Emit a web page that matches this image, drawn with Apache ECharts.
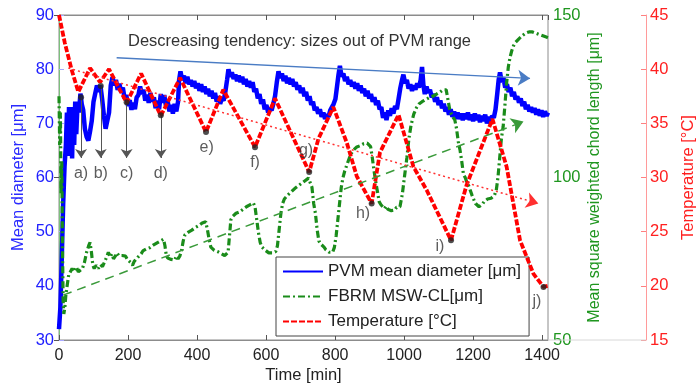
<!DOCTYPE html>
<html><head><meta charset="utf-8">
<script src="https://cdn.jsdelivr.net/npm/echarts@6/dist/echarts.min.js"></script>
<style>html,body{margin:0;padding:0;background:#fff}#c{width:697px;height:390px}</style>
</head><body><div id="c"></div>
<script>
// ---- data ----
const xTicks = [0, 200, 400, 600, 800, 1000, 1200, 1400];
const leftTicks = [30, 40, 50, 60, 70, 80, 90];
const greenTicks = [50, 100, 150];
const redTicks = [15, 20, 25, 30, 35, 40, 45];

const pvmData = [[0,32],[4,36],[8,45],[12,55],[16,62],[20,66],[23,72],[26,64],[29,73],[32,64],[35,72],[38,63.5],[41,73],[44,66],[47,74],[50,68],[54,74],[58,72],[62,75.5],[66,73.5],[70,72.5],[75,69],[80,67.5],[85,66.8],[90,68.5],[95,70.5],[100,74],[105,75.5],[110,77],[115,75.8],[120,77],[125,74.5],[130,71.5],[135,69],[140,68.8],[145,72],[150,77],[155,78.5],[160,77],[165,78],[170,76.2],[175,77.3],[180,75.8],[185,76.6],[190,74.6],[195,75.2],[200,73.2],[205,74.3],[210,72.5],[215,73.8],[220,72.6],[225,74.8],[230,75.2],[235,76.8],[240,75.4],[245,76.2],[250,74.2],[255,75.3],[260,73.8],[265,75.6],[270,74],[275,74.8],[280,72.8],[285,74.2],[290,72.6],[295,75.4],[300,73.8],[305,75.2],[310,73.2],[315,74],[320,72.2],[325,73.4],[330,71.8],[335,73.6],[340,72.2],[345,74],[348,78],[352,79.6],[357,78],[362,78.8],[367,77.4],[372,78.6],[377,77.2],[382,78],[387,76.8],[392,77.8],[397,76.5],[402,77.4],[407,76],[412,77.2],[417,75.8],[422,76.8],[427,75.4],[432,76.4],[437,75],[442,76],[447,74.6],[452,75.6],[457,74],[462,75],[467,73.6],[472,74.6],[477,74.2],[482,75.8],[487,78],[491,80],[496,78.6],[501,79.4],[506,78.2],[511,79],[516,77.8],[521,78.8],[526,77.6],[531,78.6],[536,77.2],[541,78.2],[546,76.8],[551,77.8],[556,76.6],[561,77.6],[566,75.8],[571,76.4],[576,74.6],[581,75.4],[586,73.6],[591,74.4],[596,72.6],[601,73.4],[606,72],[611,72.8],[616,72.4],[621,73.6],[626,75],[631,77.5],[636,79.6],[641,78.4],[646,79.2],[651,77.8],[656,78.8],[661,77.4],[666,78.4],[671,77.2],[676,78.2],[681,76.8],[686,77.6],[691,76.2],[696,77],[701,75.6],[706,76.6],[711,75],[716,75.8],[721,74.2],[726,75],[731,73.4],[736,74],[741,72.4],[746,73],[751,71.8],[756,72.6],[761,71.2],[766,72],[771,70.8],[776,71.6],[781,71.2],[786,72.4],[791,72.2],[796,73.6],[801,74.5],[806,77],[810,79],[814,80.6],[819,78.6],[824,79.2],[829,77.8],[834,78.6],[839,77.2],[844,78],[849,76.8],[854,77.6],[859,76.4],[864,77.4],[869,76],[874,77],[879,75.6],[884,76.4],[889,75],[894,76],[899,74.6],[904,75.4],[909,74],[914,74.8],[919,73.4],[924,74.2],[929,72.6],[934,73],[939,71],[944,72],[949,70.6],[954,72.4],[959,71.4],[964,72.8],[969,71.8],[974,73.2],[979,72.6],[984,74.5],[989,76.5],[994,78],[998,79],[1003,77.4],[1008,78],[1013,76.4],[1018,77.2],[1023,76],[1028,77],[1033,76.2],[1038,77.4],[1043,76.6],[1048,78],[1052,80.4],[1056,77],[1060,75.4],[1065,76.8],[1070,75.6],[1075,76.2],[1080,74.8],[1085,75.4],[1090,74],[1095,74.8],[1100,73.4],[1105,74.2],[1110,72.8],[1115,73.6],[1120,72.2],[1125,73],[1130,71.6],[1135,72.6],[1140,71.2],[1145,72.2],[1150,70.8],[1155,72],[1160,70.8],[1165,71.8],[1170,70.6],[1175,71.8],[1180,70.8],[1185,72],[1190,70.6],[1195,71.6],[1200,70.4],[1205,71.8],[1210,70.6],[1215,71.6],[1220,70.2],[1225,71.4],[1230,70.4],[1235,71.6],[1240,70],[1245,71.2],[1250,70.2],[1255,71.4],[1260,71],[1265,72.6],[1270,75.5],[1274,78],[1278,79.4],[1283,77.6],[1288,78.4],[1293,76.6],[1298,77.2],[1303,75.8],[1308,76.6],[1313,75],[1318,75.8],[1323,74.4],[1328,75],[1333,73.8],[1338,74.6],[1343,73.2],[1348,74],[1353,72.6],[1358,73.4],[1363,72.2],[1368,73],[1373,72],[1378,72.8],[1383,71.6],[1388,72.6],[1393,71.4],[1398,72.4],[1403,71.2],[1408,72.2],[1413,71.4],[1417,72]];

const fbrmData = [[0,125],[2,110],[4,120],[6,95],[8,105],[10,80],[12,62],[14,58],[17,60],[20,64],[24,67],[28,70],[32,70.5],[38,72],[44,71],[50,72.5],[56,71],[62,71.5],[68,72],[74,74],[80,77],[86,79],[90,80],[94,77],[98,73],[102,72],[108,73],[114,72],[120,73.2],[126,72.6],[132,74],[138,75.5],[143,77],[148,75.5],[153,76.5],[158,75],[163,75.8],[168,76.8],[173,76],[178,76.6],[183,76],[188,75.6],[193,75.8],[198,74.8],[203,75],[208,73.8],[213,73],[218,74.2],[223,74],[228,75.4],[233,76],[238,76.5],[243,77.4],[248,77.6],[253,78],[258,78.6],[263,78.4],[268,79],[273,79.2],[278,79.4],[283,79.8],[288,80],[293,80.4],[298,80.2],[303,81],[307,79],[311,76],[315,75.2],[320,75.6],[325,74.8],[330,75.4],[335,74.6],[340,75.8],[345,75],[350,75.8],[355,77.5],[360,80.5],[365,82.4],[370,82.8],[375,83.2],[380,83],[385,83.8],[390,84.2],[395,84.6],[400,85],[405,85.2],[410,85.8],[415,86],[420,86.6],[425,86.4],[430,84],[435,81],[440,78.6],[445,78.2],[450,77.6],[455,77.8],[460,77.2],[465,77],[470,76.6],[475,76.4],[480,76],[485,75.8],[490,77],[494,82],[498,87],[503,88],[508,88.6],[513,89],[518,89.2],[523,89.4],[528,89.8],[533,90.2],[538,90.6],[543,91],[548,91.2],[553,91.6],[558,92],[563,92.2],[568,91],[573,87],[578,83],[583,80],[588,78.6],[593,78],[598,77.6],[603,77],[608,76.8],[613,76.6],[618,76.8],[623,77],[628,77.2],[633,79],[638,84],[643,89],[648,92],[653,93.4],[658,94],[663,94.6],[668,95],[673,95.6],[678,96.2],[683,96.6],[688,97],[693,97.4],[698,97.8],[703,98.2],[708,98.6],[713,99],[718,99.4],[723,99.8],[728,100.3],[733,97],[738,92],[743,89],[748,84],[753,80.5],[758,79.6],[763,79],[768,78.6],[773,77.8],[778,77.4],[783,77],[788,76.4],[793,77],[798,78.5],[803,82],[808,87],[813,92],[818,97],[823,100],[828,102],[833,103.5],[838,105],[843,106.5],[848,107.6],[853,108.4],[858,109],[863,109.4],[868,109.8],[873,109.8],[878,110.2],[883,110.4],[888,110.2],[893,110.6],[898,110.8],[903,109.5],[908,106],[913,102],[918,98.5],[923,95.5],[928,92.5],[933,91.6],[938,91],[943,90.4],[948,91.2],[953,90.2],[958,90.8],[963,89.8],[968,90.4],[973,90],[978,90.8],[983,90.4],[988,91],[995,95],[1002,101],[1008,106],[1014,112],[1020,116],[1028,119.5],[1036,121.5],[1043,122.6],[1048,123],[1053,123.4],[1058,123.8],[1063,124],[1068,124.2],[1073,124.6],[1078,124.8],[1083,125],[1088,125.4],[1093,125.6],[1098,126],[1103,126.2],[1108,126.6],[1113,127],[1118,127.4],[1122,127],[1127,124],[1132,121],[1137,119.5],[1142,118.5],[1147,117.7],[1152,115],[1157,111],[1162,108.5],[1167,105],[1172,101],[1177,100],[1182,98.5],[1187,97.5],[1192,96],[1197,94.5],[1202,93.2],[1207,92],[1212,91.6],[1217,91],[1222,90.6],[1227,91.8],[1232,92.6],[1237,92],[1242,93.4],[1247,92.8],[1252,93.6],[1257,94],[1262,94.6],[1267,96],[1272,100],[1277,106],[1282,112],[1287,115.6],[1292,122],[1297,129],[1302,134],[1307,137],[1312,139],[1317,140.5],[1322,141.5],[1327,142],[1332,142.6],[1337,143],[1342,143.6],[1347,144],[1352,144.4],[1357,144.6],[1362,144.8],[1367,144.9],[1372,144.8],[1377,144.6],[1382,144.4],[1387,144.2],[1392,144],[1397,143.8],[1402,143.6],[1407,143.4],[1412,143.2],[1417,143]];

const tempData = [[0,45],[17,42.4],[37,39.9],[56,37.9],[90,40.1],[119,38.8],[145,40.0],[196,36.9],[238,39.6],[295,35.7],[351,39.2],[426,34.2],[476,38.1],[568,32.8],[626,37.3],[725,30.5],[752,33.6],[795,36.5],[834,33.2],[863,30.1],[906,27.6],[930,32.3],[984,35.8],[1027,31.0],[1066,28.8],[1136,24.2],[1181,29.3],[1256,35.4],[1297,31.0],[1336,24.2],[1375,21.1],[1404,19.9],[1417,20.0]];

// trend arrows [start, end]
const pvmTrend = [[167, 82.1], [1365, 78.3]];
const fbrmTrend = [[12, 63.8], [1346, 117.2]];
const tempTrend = [[27, 40.1], [1389, 27.6]];

// annotated points a)-d) on diameter axis with vertical arrows
const arrowNames = ['a)', 'b)', 'c)', 'd)'];
const arrowT = [64, 121, 196, 295];
const arrowTop = [74.8, 76.9, 73.9, 71.5];
const arrowBottom = [63.6, 63.6, 63.6, 63.6];
const arrowLabelV = [60.8, 60.8, 60.8, 60.8];

// annotated temperature minima e)-j)
const tempMarkNames = ['e)', 'f)', 'g)', 'h)', 'i)', 'j)'];
const tempMarkT = [426, 568, 725, 906, 1136, 1404];
const tempMarkV = [34.2, 32.8, 30.5, 27.6, 24.2, 19.9];
const tempLabelT = [428, 568, 716, 881, 1104, 1385];
const tempLabelV = [32.8, 31.4, 32.5, 26.7, 23.6, 18.5];

// ---- chart ----
const FONT = 'Liberation Sans, Arial, Helvetica, sans-serif';
const chart = echarts.init(document.getElementById('c'));
const seg = p => [{coord: p[0]}, {coord: p[1]}];

chart.setOption({
  animation: false,
  backgroundColor: '#fff',
  textStyle: {fontFamily: FONT},
  grid: {left: 59, right: 149, top: 15, bottom: 50, show: true, borderColor: '#8c8c8c', borderWidth: 1, outerBoundsMode: 'none'},
  legend: {
    left: 276, top: 257, orient: 'vertical',
    backgroundColor: '#fff', borderColor: '#444', borderWidth: 1,
    padding: [6, 8, 6, 6], itemGap: 8, itemWidth: 40, itemHeight: 10,
    itemStyle: {opacity: 0},
    textStyle: {fontSize: 17, color: '#222', fontFamily: FONT},
    data: ['PVM mean diameter [μm]', 'FBRM MSW-CL[μm]', 'Temperature [°C]']
  },
  graphic: [
    {type: 'text', left: 128, top: 33, z: 10,
     style: {text: 'Descreasing tendency: sizes out of PVM range', fontSize: 16.5, fontFamily: FONT, fill: '#333'}},
    {type: 'line', z: 1, shape: {x1: 548, y1: 340, x2: 646, y2: 340}, style: {stroke: '#d8d8d8', lineWidth: 1}}
  ],
  xAxis: [
    {type: 'value', min: 0, max: 1417, interval: 200,
     name: 'Time [min]', nameLocation: 'middle', nameGap: 27, nameMoveOverlap: false,
     nameTextStyle: {fontSize: 16.5, color: '#222', fontFamily: FONT},
     axisLine: {lineStyle: {color: '#8c8c8c'}},
     axisTick: {inside: true, length: 5, lineStyle: {color: '#555'}},
     axisLabel: {color: '#222', fontSize: 16, margin: 8, showMaxLabel: false, fontFamily: FONT,
                 formatter: v => xTicks.includes(v) ? String(v) : ''},
     splitLine: {show: false}},
    {type: 'value', position: 'top', min: 0, max: 1417, interval: 200,
     axisLine: {lineStyle: {color: '#8c8c8c'}},
     axisTick: {inside: true, length: 5, lineStyle: {color: '#555'}},
     axisLabel: {show: false}, splitLine: {show: false}}
  ],
  yAxis: [
    {type: 'value', position: 'left', min: 30, max: 90, interval: 10,
     name: 'Mean diameter [μm]', nameLocation: 'middle', nameGap: 32, nameMoveOverlap: false,
     nameTextStyle: {fontSize: 16.5, color: '#2a2aff', fontFamily: FONT},
     axisLine: {show: true, lineStyle: {color: '#a8a8ff'}},
     axisTick: {show: true, inside: true, length: 5, lineStyle: {color: '#a8a8ff'}},
     axisLabel: {color: '#2020ff', fontSize: 16.5, margin: 5, fontFamily: FONT,
                 formatter: v => leftTicks.includes(v) ? String(v) : ''},
     splitLine: {show: false}},
    {type: 'value', position: 'right', min: 50, max: 150, interval: 50,
     name: 'Mean square weighted chord length [μm]', nameLocation: 'middle', nameGap: 39, nameMoveOverlap: false,
     nameTextStyle: {fontSize: 16, color: '#1f961f', fontFamily: FONT},
     axisLine: {show: true, lineStyle: {color: '#7cc07c'}},
     axisTick: {show: true, inside: true, length: 5, lineStyle: {color: '#555'}},
     axisLabel: {color: '#1f961f', fontSize: 16.5, margin: 5, fontFamily: FONT,
                 formatter: v => greenTicks.includes(v) ? String(v) : ''},
     splitLine: {show: false}},
    {type: 'value', position: 'right', offset: 98, min: 15, max: 45, interval: 5,
     name: 'Temperature [°C]', nameLocation: 'middle', nameGap: 34, nameMoveOverlap: false,
     nameTextStyle: {fontSize: 16.5, color: '#ff2020', fontFamily: FONT},
     axisLine: {show: true, lineStyle: {color: '#ff9a9a'}},
     axisTick: {show: true, inside: true, length: 5, lineStyle: {color: '#ff8080'}},
     axisLabel: {color: '#ff2020', fontSize: 16.5, margin: 4, fontFamily: FONT,
                 formatter: v => redTicks.includes(v) ? String(v) : ''},
     splitLine: {show: false}}
  ],
  series: [
    {name: 'PVM mean diameter [μm]', type: 'line', yAxisIndex: 0, symbol: 'none', showSymbol: false, z: 2,
     data: pvmData, lineStyle: {color: '#0000ff', width: 4.5}, itemStyle: {color: '#0000ff'},
     markLine: {silent: true, symbol: ['none', 'arrow'], symbolSize: 12, label: {show: false},
                lineStyle: {color: '#4a7cc4', width: 1.5, type: 'solid'}, data: [seg(pvmTrend)]}},
    {name: 'FBRM MSW-CL[μm]', type: 'line', yAxisIndex: 1, symbol: 'none', showSymbol: false, z: 3,
     data: fbrmData, lineStyle: {color: '#1a8c1a', width: 3.2, type: [7, 3, 2, 3]}, itemStyle: {color: '#1a8c1a'},
     markLine: {silent: true, symbol: ['none', 'arrow'], symbolSize: 12, label: {show: false},
                lineStyle: {color: '#3a9a3a', width: 1.5, type: [9, 6]}, data: [seg(fbrmTrend)]}},
    {name: 'Temperature [°C]', type: 'line', yAxisIndex: 2, symbol: 'none', showSymbol: false, z: 4,
     data: tempData, lineStyle: {color: '#ff0000', width: 3.8, type: [6, 2]}, itemStyle: {color: '#ff0000'},
     markLine: {silent: true, symbol: ['none', 'arrow'], symbolSize: 12, label: {show: false},
                lineStyle: {color: '#ff3030', width: 1.5, type: [2, 3]}, data: [seg(tempTrend)]}},
    {type: 'scatter', yAxisIndex: 0, z: 6, symbolSize: 6, itemStyle: {color: '#222'},
     data: arrowT.map((t, i) => [t, arrowTop[i]]),
     markLine: {silent: true, symbol: ['none', 'arrow'], symbolSize: 9, label: {show: false},
                lineStyle: {color: '#555', width: 1, type: 'solid'},
                data: arrowT.map((t, i) => [{coord: [t, arrowTop[i]]}, {coord: [t, arrowBottom[i]]}])}},
    {type: 'scatter', yAxisIndex: 0, z: 6, symbolSize: 0,
     data: arrowT.map((t, i) => ({name: arrowNames[i], value: [t, arrowLabelV[i]]})),
     label: {show: true, position: 'inside', formatter: p => p.name, fontSize: 16, color: '#333', fontFamily: FONT}},
    {type: 'scatter', yAxisIndex: 2, z: 6, symbolSize: 6, itemStyle: {color: '#222'},
     data: tempMarkT.map((t, i) => [t, tempMarkV[i]])},
    {type: 'scatter', yAxisIndex: 2, z: 6, symbolSize: 0,
     data: tempLabelT.map((t, i) => ({name: tempMarkNames[i], value: [t, tempLabelV[i]]})),
     label: {show: true, position: 'inside', formatter: p => p.name, fontSize: 16, color: '#333', fontFamily: FONT}}
  ]
});
</script></body></html>
